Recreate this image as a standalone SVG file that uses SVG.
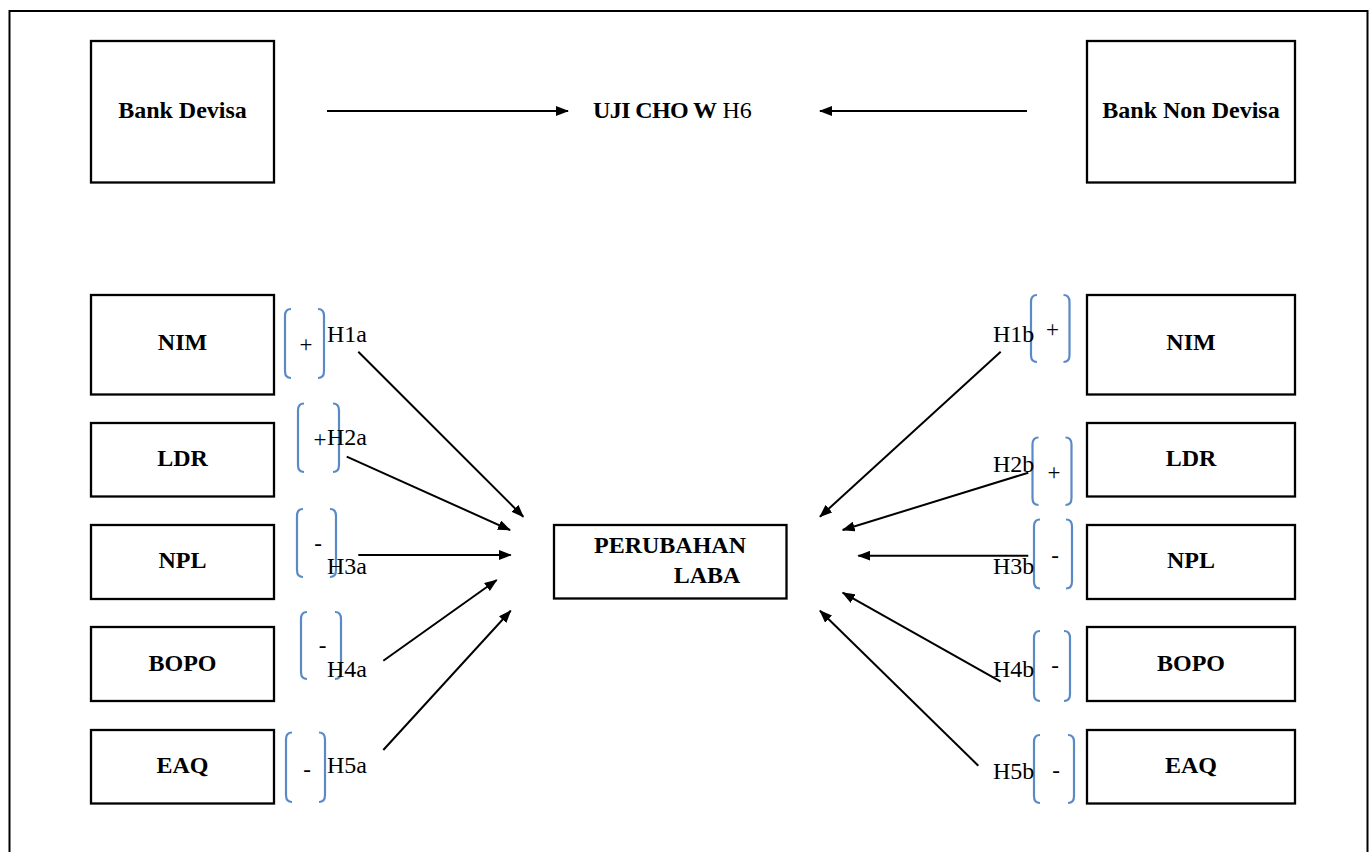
<svg xmlns="http://www.w3.org/2000/svg" width="1372" height="852" viewBox="0 0 1372 852">
<style>
.box{fill:#fff;stroke:#000;stroke-width:2.3}
.bt{font-family:"Liberation Serif","Times New Roman",serif;font-weight:bold;font-size:24px;fill:#000;text-anchor:middle}
.ht{font-family:"Liberation Serif","Times New Roman",serif;font-size:24px;fill:#000}
.sg{font-family:"Liberation Serif","Times New Roman",serif;font-size:23px;fill:#000;text-anchor:middle}
.br{fill:none;stroke:#5A8AC6;stroke-width:2.2}
.ar{fill:none;stroke:#000;stroke-width:2;marker-end:url(#ah)}
</style>
<defs>
<marker id="ah" markerUnits="userSpaceOnUse" markerWidth="14" markerHeight="10" refX="12" refY="5" orient="auto">
<polygon points="0,0 13,5 0,10" fill="#000"/>
</marker>
</defs>
<rect x="0" y="0" width="1372" height="852" fill="#fff"/>
<rect x="9.5" y="11" width="1358" height="900" fill="none" stroke="#000" stroke-width="2"/>

<g id="bank-devisa"><rect class="box" x="91" y="41" width="183" height="141.5"/><text class="bt" x="182.5" y="118">Bank Devisa</text></g>
<g id="bank-non-devisa"><rect class="box" x="1087" y="41" width="208" height="141.5"/><text class="bt" x="1191" y="118">Bank Non Devisa</text></g>
<g id="uji-chow"><text class="ht" x="593" y="118"><tspan font-weight="bold" letter-spacing="-0.6">UJI CHO W</tspan> H6</text></g>

<g id="nim-a"><rect class="box" x="91" y="295" width="183" height="99.5"/><text class="bt" x="182.5" y="350">NIM</text></g>
<g id="ldr-a"><rect class="box" x="91" y="423" width="183" height="73.5"/><text class="bt" x="182.5" y="466">LDR</text></g>
<g id="npl-a"><rect class="box" x="91" y="525" width="183" height="74"/><text class="bt" x="182.5" y="568">NPL</text></g>
<g id="bopo-a"><rect class="box" x="91" y="627" width="183" height="74"/><text class="bt" x="182.5" y="671">BOPO</text></g>
<g id="eaq-a"><rect class="box" x="91" y="730" width="183" height="73.5"/><text class="bt" x="182.5" y="773">EAQ</text></g>

<g id="nim-b"><rect class="box" x="1087" y="295" width="208" height="99.5"/><text class="bt" x="1191" y="350">NIM</text></g>
<g id="ldr-b"><rect class="box" x="1087" y="423" width="208" height="73.5"/><text class="bt" x="1191" y="466">LDR</text></g>
<g id="npl-b"><rect class="box" x="1087" y="525" width="208" height="74"/><text class="bt" x="1191" y="568">NPL</text></g>
<g id="bopo-b"><rect class="box" x="1087" y="627" width="208" height="74"/><text class="bt" x="1191" y="671">BOPO</text></g>
<g id="eaq-b"><rect class="box" x="1087" y="730" width="208" height="73.5"/><text class="bt" x="1191" y="773">EAQ</text></g>

<g id="perubahan-laba"><rect class="box" x="554" y="525" width="232.5" height="73.5"/>
<text class="bt" x="670" y="553">PERUBAHAN</text><text class="bt" x="707" y="583">LABA</text></g>

<g id="connectors">
<path class="ar" d="M327,111 H568"/>
<path class="ar" d="M1027,111 H820"/>
<path class="ar" d="M358.3,351.7 L523.3,516.7"/>
<path class="ar" d="M346.7,456.7 L510,530"/>
<path class="ar" d="M358.3,555 L510.7,555"/>
<path class="ar" d="M383.3,660.7 L496.7,580"/>
<path class="ar" d="M383.3,750 L510.7,610.7"/>
<path class="ar" d="M1000.7,351.7 L820,516.7"/>
<path class="ar" d="M1028.3,472.7 L842.7,530"/>
<path class="ar" d="M1028.3,555.7 L858.3,555.7"/>
<path class="ar" d="M1000.7,681.7 L842.7,592.7"/>
<path class="ar" d="M978.3,765.7 L820,610.7"/>
</g>

<g id="hyp-a">
<path class="br" d="M291,309 Q285,309 285,316 V371 Q285,378 291,378"/>
<path class="br" d="M318,309 Q324,309 324,316 V371 Q324,378 318,378"/>
<text class="sg" x="306" y="352">+</text>
<text class="ht" x="327" y="342">H1a</text>

<path class="br" d="M304,403.5 Q298,403.5 298,410.5 V465 Q298,472 304,472"/>
<path class="br" d="M333,403.5 Q339,403.5 339,410.5 V465 Q339,472 333,472"/>
<text class="sg" x="320" y="447">+</text>
<text class="ht" x="327" y="444.5">H2a</text>

<path class="br" d="M303,509 Q297,509 297,516 V570 Q297,577 303,577"/>
<path class="br" d="M330,509 Q336,509 336,516 V570 Q336,577 330,577"/>
<text class="sg" x="318" y="551">-</text>
<text class="ht" x="327" y="574">H3a</text>

<path class="br" d="M307,612 Q301,612 301,619 V672 Q301,679 307,679"/>
<path class="br" d="M335,612 Q341,612 341,619 V672 Q341,679 335,679"/>
<text class="sg" x="322.5" y="653">-</text>
<text class="ht" x="327" y="677">H4a</text>

<path class="br" d="M292,732.5 Q286,732.5 286,739.5 V795 Q286,802 292,802"/>
<path class="br" d="M319,732.5 Q325,732.5 325,739.5 V795 Q325,802 319,802"/>
<text class="sg" x="307" y="777">-</text>
<text class="ht" x="327" y="773">H5a</text>
</g>

<g id="hyp-b">
<path class="br" d="M1037,295 Q1031,295 1031,302 V355 Q1031,362 1037,362"/>
<path class="br" d="M1063.5,295 Q1069.5,295 1069.5,302 V355 Q1069.5,362 1063.5,362"/>
<text class="sg" x="1052.5" y="337">+</text>
<text class="ht" x="993" y="342">H1b</text>

<path class="br" d="M1038.5,437.5 Q1032.5,437.5 1032.5,444.5 V498 Q1032.5,505 1038.5,505"/>
<path class="br" d="M1065.5,437.5 Q1071.5,437.5 1071.5,444.5 V498 Q1071.5,505 1065.5,505"/>
<text class="sg" x="1054" y="480">+</text>
<text class="ht" x="993" y="472">H2b</text>

<path class="br" d="M1040,519.5 Q1034,519.5 1034,526.5 V581.5 Q1034,588.5 1040,588.5"/>
<path class="br" d="M1066,519.5 Q1072,519.5 1072,526.5 V581.5 Q1072,588.5 1066,588.5"/>
<text class="sg" x="1055" y="563">-</text>
<text class="ht" x="993" y="574">H3b</text>

<path class="br" d="M1040,631 Q1034,631 1034,638 V694 Q1034,701 1040,701"/>
<path class="br" d="M1064,631 Q1070,631 1070,638 V694 Q1070,701 1064,701"/>
<text class="sg" x="1055" y="673">-</text>
<text class="ht" x="993" y="677">H4b</text>

<path class="br" d="M1040,735 Q1034,735 1034,742 V796 Q1034,803 1040,803"/>
<path class="br" d="M1068,735 Q1074,735 1074,742 V796 Q1074,803 1068,803"/>
<text class="sg" x="1056" y="778">-</text>
<text class="ht" x="993" y="779">H5b</text>
</g>
</svg>
